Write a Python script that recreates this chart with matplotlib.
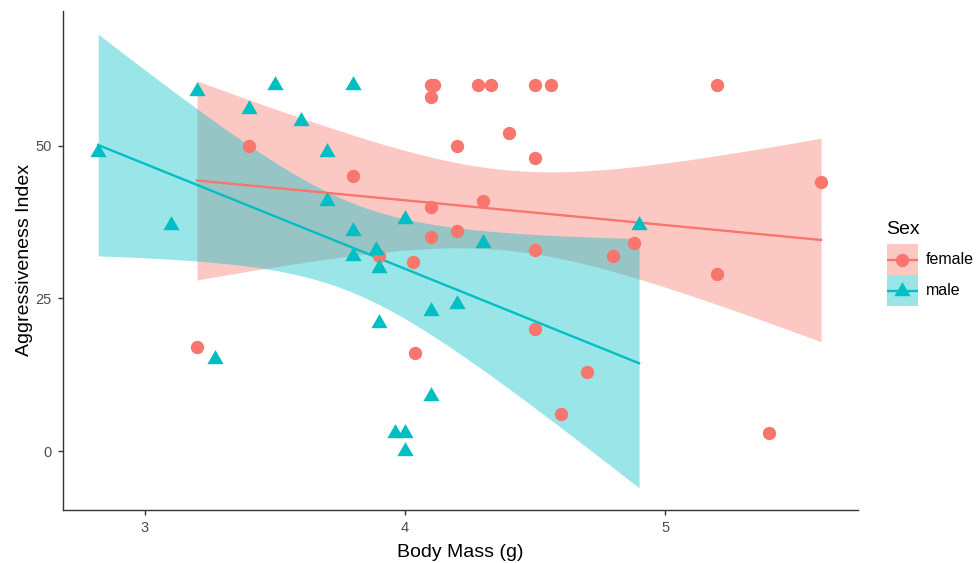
import math
import numpy as np
import matplotlib
matplotlib.use("Agg")
import matplotlib.pyplot as plt
from matplotlib.patches import Rectangle

plt.rcParams['font.family'] = ['Liberation Sans', 'DejaVu Sans']

# ---- data ----
female_mass = [3.2, 3.4, 3.8, 3.9, 4.03, 4.04, 4.1, 4.11, 4.1, 4.1, 4.1, 4.2, 4.2,
               4.28, 4.33, 4.4, 4.3, 4.5, 4.56, 4.5, 4.5, 4.5, 4.6, 4.7, 4.8, 4.88,
               5.2, 5.2, 5.4, 5.6]
female_aggr = [17, 50, 45, 32, 31, 16, 60, 60, 58, 40, 35, 50, 36,
               60, 60, 52, 41, 60, 60, 48, 33, 20, 6, 13, 32, 34,
               60, 29, 3, 44]
male_mass = [2.82, 3.1, 3.2, 3.27, 3.4, 3.5, 3.6, 3.7, 3.7, 3.8, 3.8, 3.8,
             3.89, 3.9, 3.9, 4.0, 3.96, 4.0, 4.0, 4.1, 4.1, 4.2, 4.3, 4.9]
male_aggr = [49, 37, 59, 15, 56, 60, 54, 49, 41, 60, 36, 32,
             33, 30, 21, 38, 3, 3, 0, 23, 9, 24, 34, 37]
groups = ['female', 'male']
colors = {'female': '#F8766D', 'male': '#00BFC4'}
x_ticks = [3, 4, 5]
y_ticks = [0, 25, 50]


def t_quantile(p, df):
    # numeric inverse of Student t CDF via integration of the density
    c = math.exp(math.lgamma((df + 1) / 2) - math.lgamma(df / 2)) / math.sqrt(df * math.pi)
    grid = np.linspace(0, 10, 200001)
    pdf = c * (1 + grid ** 2 / df) ** (-(df + 1) / 2)
    cdf = 0.5 + np.concatenate([[0], np.cumsum((pdf[1:] + pdf[:-1]) / 2 * np.diff(grid))])
    return float(np.interp(p, cdf, grid))


def lm_band(x, y, n=80):
    x = np.asarray(x, float)
    y = np.asarray(y, float)
    X = np.column_stack([np.ones_like(x), x])
    beta, *_ = np.linalg.lstsq(X, y, rcond=None)
    resid = y - X @ beta
    dof = len(x) - 2
    s2 = resid @ resid / dof
    xtx_inv = np.linalg.inv(X.T @ X)
    xs = np.linspace(x.min(), x.max(), n)
    Xs = np.column_stack([np.ones_like(xs), xs])
    fit = Xs @ beta
    se = np.sqrt(np.einsum('ij,jk,ik->i', Xs, xtx_inv, Xs) * s2)
    t = t_quantile(0.975, dof)
    return xs, fit, fit - t * se, fit + t * se


W, H = 979, 563
fig = plt.figure(figsize=(W / 100, H / 100), dpi=100)
ax = fig.add_axes([62.7 / W, 53 / H, (858 - 62.7) / W, (510 - 11) / H])

data = {'female': (female_mass, female_aggr), 'male': (male_mass, male_aggr)}
tri = [(0, 1), (-0.866, -0.5), (0.866, -0.5), (0, 1)]
markers = {'female': 'o', 'male': tri}
msizes = {'female': 9.6, 'male': 13.5}

for g in groups:
    xs, fit, lo, hi = lm_band(*data[g])
    ax.fill_between(xs, lo, hi, color=colors[g], alpha=0.4, linewidth=0, zorder=1)
    ax.plot(xs, fit, color=colors[g], lw=1.7, zorder=1.5)

for g in groups:
    ax.plot(data[g][0], data[g][1], linestyle='none', marker=markers[g],
            markersize=msizes[g], color=colors[g], markeredgewidth=0, zorder=3)

ax.set_xlim(2.6835, 5.742)
ax.set_ylim(-9.66, 72.06)
ax.set_xticks(x_ticks)
ax.set_yticks(y_ticks)
ax.set_xticklabels([str(v) for v in x_ticks])
ax.set_yticklabels([str(v) for v in y_ticks])
for s in ['top', 'right']:
    ax.spines[s].set_visible(False)
for s in ['left', 'bottom']:
    ax.spines[s].set_color('#333333')
    ax.spines[s].set_linewidth(1.0)
ax.tick_params(axis='both', colors='#333333', labelcolor='#4D4D4D', labelsize=10.5,
               length=3.8, width=1.0, pad=4)
ax.set_xlabel('Body Mass (g)', fontsize=14, color='black', labelpad=6.5)
ax.set_ylabel('Aggressiveness Index', fontsize=14, color='black', labelpad=1.5)

# ---- legend (drawn manually in pixel layout) ----
lax = fig.add_axes([887 / W, 1 - 306 / H, 31 / W, 62 / H])
lax.set_xlim(0, 1)
lax.set_ylim(0, 2)
lax.axis('off')
for i, g in enumerate(groups):
    yc = 1.5 - i
    lax.add_patch(Rectangle((0, yc - 0.5), 1, 1, facecolor=colors[g], alpha=0.4,
                            edgecolor='none'))
    lax.plot([0, 1], [yc, yc], color=colors[g], lw=1.7)
    lax.plot([0.5], [yc], marker=markers[g], markersize=msizes[g], color=colors[g],
             markeredgewidth=0, linestyle='none')
    fig.text(926 / W, 1 - (259.5 + 31 * i) / H, g, fontsize=11.5, color='black',
             ha='left', va='center')
fig.text(886 / W, 1 - 229 / H, 'Sex', fontsize=14, color='black', ha='left', va='center')

fig.savefig('out.png', dpi=100)
